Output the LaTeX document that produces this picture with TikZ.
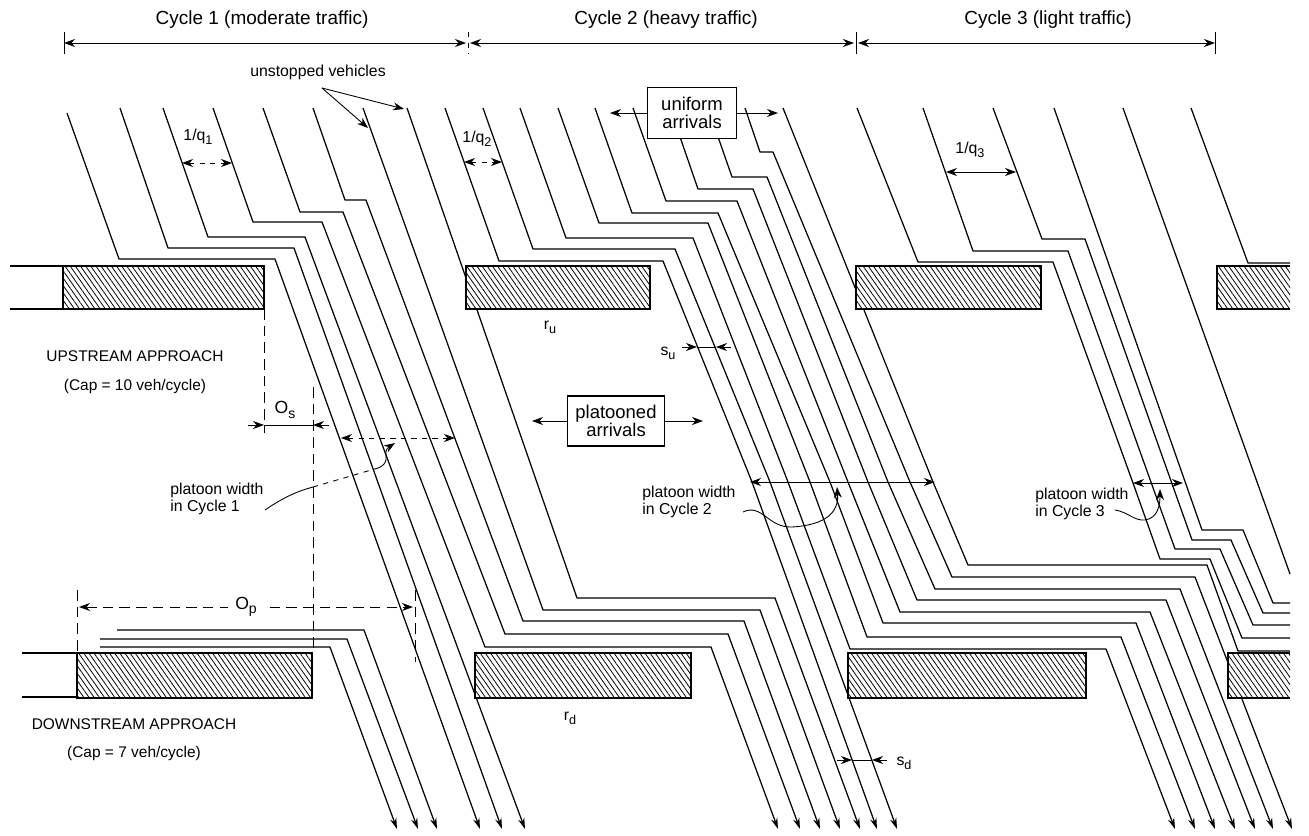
\documentclass[tikz,border=0pt]{standalone}
\usepackage{graphicx}
\usepackage{fontspec}
\setmainfont{Liberation Sans}
\usetikzlibrary{positioning,arrows.meta,patterns.meta}
\newcommand{\sbs}[1]{\raisebox{-0.45ex}{\scalebox{0.8}{#1}}}
\tikzset{
  veh/.style={line width=0.7pt, line join=round},
  vehout/.style={veh, -{Stealth[length=2.2mm,width=1.3mm]}},
  redbar/.style={draw, line width=0.9pt, preaction={fill=white},
                 pattern={Lines[angle=-55,distance=2.4pt,line width=0.45pt]}},
  thinline/.style={line width=0.5pt},
  dim/.style={thinline, {Stealth[length=2.2mm,width=1.6mm]}-{Stealth[length=2.2mm,width=1.6mm]}},
  dimin/.style={thinline, -{Stealth[length=2.2mm,width=1.6mm]}},
  refline/.style={thinline, dash pattern=on 6pt off 3.5pt},
  msgbox/.style={draw, line width=0.6pt, fill=white, align=center, inner sep=0pt,
                 font=\fontsize{10.5}{10.5}\selectfont},
  cyclbl/.style={font=\fontsize{10.8}{13}\selectfont},
  lbl/.style={font=\fontsize{9}{9.6}\selectfont, align=left, inner sep=0pt},
  caplbl/.style={font=\fontsize{8.8}{10}\selectfont, inner sep=0pt},
  sym/.style={font=\fontsize{9}{10}\selectfont, inner sep=0pt},
}
\begin{document}
\begin{tikzpicture}[x=0.2mm, y=-0.2mm]
  \useasboundingbox (0,0) rectangle (1309,835);

  % cycle lengths along the top
  \foreach \xt/\dsh in {64/solid,468/dashed,856/solid,1215/solid}
    \draw[thinline,\dsh] (\xt,32) -- (\xt,54);
  \draw[dim] (64,43) -- (466,43);
  \draw[dim] (470,43) -- (854,43);
  \draw[dim] (858,43) -- (1215,43);
  \node[cyclbl] (cyc1) at (262,20) {Cycle 1 (moderate traffic)};
  \node[cyclbl] (cyc2) at (666,20) {Cycle 2 (heavy traffic)};
  \node[cyclbl] (cyc3) at (1048,20) {Cycle 3 (light traffic)};

  % approach edges before the first red
  \draw[veh] (10,266) -- (63,266) (10,309) -- (63,309);
  \draw[veh] (22,653) -- (77,653) (22,697) -- (77,697);

  % held over from the previous cycle
  \draw[vehout] (100,647) -- (330,647) -- (397,829);
  \draw[vehout] (100,639) -- (347,639) -- (418,829);
  \draw[vehout] (117,630) -- (364,630) -- (437,829);

  % cycle 1
  \draw[vehout] (67,113) -- (119,259) -- (275,259) -- (480,829);
  \draw[vehout] (120,108) -- (168,248) -- (294,248) -- (502,829);
  \draw[vehout] (163,108) -- (208,237) -- (305,237) -- (525,829);
  \draw[vehout] (213,108) -- (253,222) -- (322,222) -- (485,647) -- (711,647) -- (778,829);
  \draw[vehout] (263,108) -- (300,212) -- (343,212) -- (505,634) -- (728,634) -- (800,829);
  \draw[vehout] (313,108) -- (345,200) -- (366,200) -- (523,621) -- (744,621) -- (820,829);
  \draw[vehout] (363,108) -- (543,610) -- (760,610) -- (840,829);
  \draw[vehout] (407,108) -- (577,598) -- (775,598) -- (860,829);

  % cycle 2
  \draw[vehout] (445,108) -- (499,261) -- (663,261) -- (752,482) -- (877,829);
  \draw[vehout] (483,108) -- (533,249) -- (675,249) -- (770,482) -- (897,829);
  \draw[vehout] (520,108) -- (566,238) -- (693,238) -- (788,482) -- (850,649) -- (1106,649) -- (1175,829);
  \draw[vehout] (558,108) -- (599,223) -- (708,223) -- (810,482) -- (867,637) -- (1121,637) -- (1195,829);
  \draw[vehout] (595,108) -- (632,213) -- (718,213) -- (830,482) -- (883,623) -- (1136,623) -- (1215,829);
  \draw[vehout] (633,108) -- (666,201) -- (737,201) -- (848,482) -- (900,612) -- (1150,612) -- (1235,829);
  \draw[vehout] (670,108) -- (698,189) -- (753,189) -- (868,482) -- (917,600) -- (1166,600) -- (1255,829);
  \draw[vehout] (708,108) -- (732,177) -- (767,177) -- (888,482) -- (935,589) -- (1180,589) -- (1273,829);
  \draw[vehout] (745,108) -- (760,152) -- (773,152) -- (910,482) -- (952,577) -- (1195,577) -- (1292,829);
  \draw[veh] (783,108) -- (933,482) -- (968,565) -- (1207,565) -- (1238,651) -- (1290,651);

  % cycle 3
  \draw[veh] (857,108) -- (918,262) -- (1053,262) -- (1133,483) -- (1160,559) -- (1210,559) -- (1242,638) -- (1290,638);
  \draw[veh] (923,108) -- (973,251) -- (1068,251) -- (1175,549) -- (1220,549) -- (1253,625) -- (1290,625);
  \draw[veh] (993,108) -- (1042,239) -- (1085,239) -- (1192,540) -- (1231,540) -- (1263,613) -- (1290,613);
  \draw[veh] (1054,108) -- (1202,530) -- (1243,530) -- (1273,603) -- (1290,603);
  \draw[veh] (1123,108) -- (1290,574);
  \draw[veh] (1191,108) -- (1248,263) -- (1290,263);

  % red intervals, upstream and downstream
  \foreach \xa/\xb in {63/264,466/650,856/1041}
    \draw[redbar] (\xa,266) rectangle (\xb,309);
  \draw[redbar] (1290,266) -| (1217,309) -- (1290,309);
  \foreach \xa/\xb in {77/312,475/691,848/1086}
    \draw[redbar] (\xa,653) rectangle (\xb,698);
  \draw[redbar] (1290,653) -| (1228,698) -- (1290,698);

  % offsets
  \draw[refline] (264,309) -- (264,433);
  \draw[refline] (313,387) -- (313,653);
  \draw[refline] (77,590) -- (77,653);
  \draw[refline] (415,590) -- (415,662);
  \draw[dimin] (248,425) -- (264,425);
  \draw[thinline] (264,425) -- (313,425);
  \draw[dimin] (329,425) -- (313,425);
  \node[font=\fontsize{10}{12}\selectfont, inner sep=0pt] (os) at (285,410) {O\sbs{s}};
  \draw[dim, refline] (79,607) -- node[fill=white, inner sep=4pt,
        font=\fontsize{10}{12}\selectfont] (op) {O\sbs{p}} (413,607);

  % headways
  \draw[dim, dashed] (182,163) -- (232,163);
  \draw[dim, dashed] (464,162) -- (502,162);
  \draw[dim] (946,172) -- (1016,172);
  \node[sym] (q1) at (198,137) {1/q\sbs{1}};
  \node[sym] (q2) at (477,139) {1/q\sbs{2}};
  \node[sym] (q3) at (970,150) {1/q\sbs{3}};
  \draw[dimin] (682,347) -- (697,347);
  \draw[thinline] (697,347) -- (716,347);
  \draw[dimin] (731,347) -- (716,347);
  \node[sym] (su) at (668,353) {s\sbs{u}};
  \draw[dimin] (837,760) -- (852,760);
  \draw[thinline] (852,760) -- (872,760);
  \draw[dimin] (887,760) -- (872,760);
  \node[sym] (sd) at (904,763) {s\sbs{d}};
  \node[sym] (ru) at (550,327) {r\sbs{u}};
  \node[sym] (rd) at (570,718) {r\sbs{d}};

  % platoon widths
  \draw[dim, dashed] (341,438) -- (455,438);
  \draw[dim] (750,482) -- (935,482);
  \draw[dim] (1133,483) -- (1183,483);
  \node[lbl, anchor=west] (pw1) at (170,499) {platoon width\\in Cycle 1};
  \node[lbl, anchor=west] (pw2) at (642,502) {platoon width\\in Cycle 2};
  \node[lbl, anchor=west] (pw3) at (1035,504) {platoon width\\in Cycle 3};
  \draw[thinline] (265,510) .. controls (284,497) and (298,491) .. (313,487);
  \draw[thinline, dashed] (313,487) -- (378,468);
  \draw[dimin] (378,468) .. controls (393,462) and (381,452) .. (395,443);
  \draw[dimin] (743,512) .. controls (762,503) and (768,528) .. (792,527)
                         .. controls (826,525) and (839,512) .. (837,487);
  \draw[dimin] (1115,510) .. controls (1128,512) and (1134,521) .. (1145,520)
                          .. controls (1158,518) and (1160,505) .. (1160,489);

  % arrival notes
  \node[font=\fontsize{9}{10}\selectfont] (unst) at (318,72) {unstopped vehicles};
  \draw[dimin] (322,88) -- (368,128);
  \draw[dimin] (322,88) -- (404,109);
  \node[msgbox, minimum width=17.8mm, minimum height=10.2mm] (unif) at (692,113) {uniform\\arrivals};
  \draw[dimin] (unif.west) -- (610,113);
  \draw[dimin] (unif.east) -- (778,113);
  \node[msgbox, minimum width=19.4mm, minimum height=10mm] (plat) at (616,421) {platooned\\arrivals};
  \draw[dimin] (plat.west) -- (532,421);
  \draw[dimin] (plat.east) -- (703,421);

  % approach names
  \node[caplbl] (upst) at (135,356) {UPSTREAM APPROACH};
  \node[caplbl, below=3.4mm of upst] (upcap) {(Cap = 10 veh/cycle)};
  \node[caplbl] (dnst) at (134,724) {DOWNSTREAM APPROACH};
  \node[caplbl, below=3.2mm of dnst] (dncap) {(Cap = 7 veh/cycle)};
\end{tikzpicture}
\end{document}
